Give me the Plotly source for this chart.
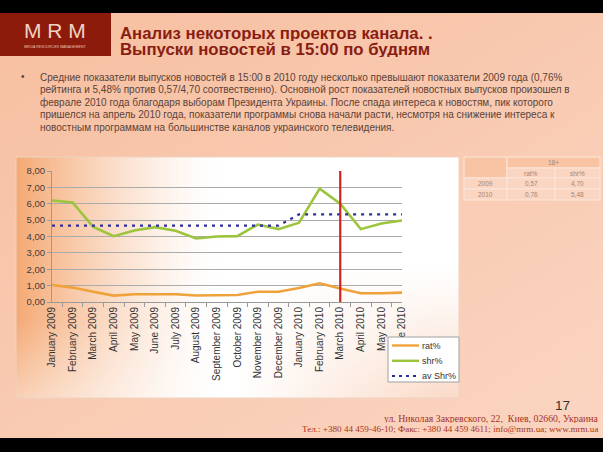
import zlib, struct, base64
import numpy as np
import plotly.graph_objects as go

# ---------------- data ----------------
months = ["January 2009", "February 2009", "March 2009", "April 2009", "May 2009",
          "June 2009", "July 2009", "August 2009", "September 2009", "October 2009",
          "November 2009", "December 2009", "January 2010", "February 2010",
          "March 2010", "April 2010", "May 2010", "June 2010"]
rat = [1.04, 0.88, 0.63, 0.39, 0.47, 0.47, 0.47, 0.40, 0.40, 0.43, 0.63, 0.63,
       0.86, 1.14, 0.82, 0.53, 0.53, 0.57]
shr = [6.20, 6.08, 4.59, 4.02, 4.37, 4.57, 4.35, 3.88, 4.00, 4.02, 4.73, 4.45,
       4.84, 6.92, 6.00, 4.45, 4.80, 4.98]
av_shr = [4.66, 4.66, 4.66, 4.66, 4.66, 4.66, 4.66, 4.66, 4.66, 4.66, 4.66, 4.66,
          5.35, 5.35, 5.35, 5.35, 5.35, 5.35]
marker_month = "March 2010"
y_range = [0, 8]

table_group = ["18+"]
table_cols = ["rat%", "shr%"]
table_years = ["2009", "2010"]
table_rat = ["0,57", "0,76"]
table_shr = ["4,70", "5,48"]

title_lines = ["Анализ некоторых проектов канала. .",
               "Выпуски новостей в 15:00 по будням"]
body_lines = [
    "Средние показатели выпусков новостей в 15:00 в 2010 году несколько превышают показатели 2009 года (0,76%",
    "рейтинга и 5,48% против 0,57/4,70 соотвественно). Основной рост показателей новостных выпусков произошел в",
    "феврале 2010 года благодаря выборам Президента Украины. После спада интереса к новостям, пик которого",
    "пришелся на апрель 2010 года, показатели программы снова начали расти, несмотря на снижение интереса к",
    "новостным программам на большинстве каналов украинского телевидения.",
]
page_no = "17"
address = ["ул. Николая Закревского, 22,  Киев, 02660, Украина",
           "Тел.: +380 44 459-46-10; Факс: +380 44 459 4611; info@mrm.ua; www.mrm.ua"]

COL_RAT, COL_SHR, COL_AV, COL_MARK = "#F0A23A", "#9CC43C", "#2E2E9A", "#D4201E"

# ---------------- geometry helpers ----------------
W, H = 603, 452
ML, MR, MT, MB = 52, 201, 171, 150
PW, PH = W - ML - MR, H - MT - MB


def px(x):
    return (x - ML) / PW


def py(y):
    return (H - MB - y) / PH


def png_uri(arr):
    arr = np.clip(arr, 0, 255).astype(np.uint8)
    h, w, _ = arr.shape
    raw = b"".join(b"\x00" + arr[i].tobytes() for i in range(h))

    def chunk(t, d):
        return struct.pack(">I", len(d)) + t + d + struct.pack(">I", zlib.crc32(t + d) & 0xffffffff)

    png = (b"\x89PNG\r\n\x1a\n" + chunk(b"IHDR", struct.pack(">IIBBBBB", w, h, 8, 2, 0, 0, 0))
           + chunk(b"IDAT", zlib.compress(raw, 9)) + chunk(b"IEND", b""))
    return "data:image/png;base64," + base64.b64encode(png).decode()


# slide background gradient
gx, gy = np.meshgrid(np.linspace(0, W, 151), np.linspace(0, H, 113))
s = np.clip(0.45 * gx / W + 0.55 * gy / H, 0, 1)[..., None]
c0 = np.array([247, 191, 160], float)
c1 = np.array([251, 214, 195], float)
slide_img = c0 * (1 - s) + c1 * s

# chart box gradient
BX0, BY0, BX1, BY1 = 16, 157, 459, 398
bx, by = np.meshgrid(np.linspace(BX0, BX1, 148), np.linspace(BY0, BY1, 81))
a = np.clip((215 - bx) / 200, 0, 1) ** 1.4
a = a * (1 - 0.45 * np.clip((by - 320) / 78, 0, 1))
b = (np.clip((by - 265) / 133, 0, 1) ** 1.2) * np.clip((bx - 240) / 200, 0, 1) * 0.6
a = a[..., None]
b = b[..., None]
white = np.array([255, 255, 255], float)
orange = np.array([245, 170, 118], float)
peach = np.array([249, 198, 168], float)
box_img = white * (1 - a - b) + orange * a + peach * b

# ---------------- figure ----------------
fig = go.Figure()
fig.add_trace(go.Scatter(x=months, y=rat, name="rat%", mode="lines",
                         line=dict(color=COL_RAT, width=2.6), hoverinfo="skip"))
fig.add_trace(go.Scatter(x=months, y=shr, name="shr%", mode="lines",
                         line=dict(color=COL_SHR, width=2.6), hoverinfo="skip"))
fig.add_trace(go.Scatter(x=months, y=av_shr, name="av Shr%", mode="lines",
                         line=dict(color=COL_AV, width=2.2, dash="3px,5px"), hoverinfo="skip"))
fig.add_trace(go.Scatter(x=[marker_month, marker_month], y=y_range, mode="lines",
                         line=dict(color=COL_MARK, width=2.2), showlegend=False, hoverinfo="skip"))

images = [
    dict(source=png_uri(slide_img), xref="paper", yref="paper", x=px(0), y=py(0),
         sizex=W / PW, sizey=H / PH, xanchor="left", yanchor="top", sizing="stretch", layer="below"),
    dict(source=png_uri(box_img), xref="paper", yref="paper", x=px(BX0), y=py(BY0),
         sizex=(BX1 - BX0) / PW, sizey=(BY1 - BY0) / PH, xanchor="left", yanchor="top",
         sizing="stretch", layer="below"),
]

shapes = []


def rect(x0, y0, x1, y1, fill, line=None, lw=0, layer="below"):
    shapes.append(dict(type="rect", xref="paper", yref="paper", x0=px(x0), x1=px(x1),
                       y0=py(y1), y1=py(y0), fillcolor=fill, layer=layer,
                       line=dict(color=line or fill, width=lw)))


def hline(x0, x1, y, color, width, dash=None):
    ln = dict(color=color, width=width)
    if dash:
        ln["dash"] = dash
    shapes.append(dict(type="line", xref="paper", yref="paper", x0=px(x0), x1=px(x1),
                       y0=py(y), y1=py(y), line=ln, layer="above"))


# chart box border
shapes.append(dict(type="rect", xref="paper", yref="paper", x0=px(BX0), x1=px(BX1),
                   y0=py(BY1), y1=py(BY0), line=dict(color="#EDD3C2", width=1), layer="below"))
# logo box
rect(0, 13, 111, 56, "#8C1B0C")
# black bars
rect(0, 0, W, 13, "#000000", layer="above")
rect(0, 438, W, H, "#000000", layer="above")

# table
cx = [464, 507, 555, 600]
ry = [157, 168, 178, 189, 200]
hdr, dat, brd = "#F8C4A3", "#FAD5C2", "#FCE6DA"
rect(cx[0], ry[0], cx[1], ry[2], hdr, brd, 1)
rect(cx[1], ry[0], cx[3], ry[1], hdr, brd, 1)
rect(cx[1], ry[1], cx[2], ry[2], dat, brd, 1)
rect(cx[2], ry[1], cx[3], ry[2], dat, brd, 1)
for r in range(2):
    for c in range(3):
        rect(cx[c], ry[2 + r], cx[c + 1], ry[3 + r], dat, brd, 1)

ann = []


def text(x, y, t, size, color, family="Liberation Sans", xanchor="left", bold=False, height=None):
    if bold:
        t = "<b>" + t + "</b>"
    d = dict(xref="paper", yref="paper", x=px(x), y=py(y), text=t, showarrow=False,
             xanchor=xanchor, yanchor="middle", font=dict(size=size, color=color, family=family))
    if height:
        d["height"] = height
    ann.append(d)


# manual legend (compact, like the reference)
LX0, LY0, LX1, LY1 = 388, 337, 459, 382
rect(LX0, LY0, LX1, LY1, "#FFFFFF", "#A0A0A0", 1, layer="above")
leg_items = [(trace.name, trace.line.color, trace.line.dash) for trace in fig.data[:3]]
for i, (nm, colr, dsh) in enumerate(leg_items):
    yy = 345.5 + 15.3 * i
    hline(392, 419, yy, colr, 2.4 if dsh is None else 2.0, "3px,4px" if dsh else None)
    text(420, yy, nm, 9, "#333333")

tcol = "#A48679"
text((cx[1] + cx[3]) / 2, (ry[0] + ry[1]) / 2, table_group[0], 6.5, tcol, xanchor="center")
for i, lab in enumerate(table_cols):
    text((cx[1 + i] + cx[2 + i]) / 2, (ry[1] + ry[2]) / 2, lab, 6.5, tcol, xanchor="center")
for r in range(2):
    yc = (ry[2 + r] + ry[3 + r]) / 2
    text((cx[0] + cx[1]) / 2, yc, table_years[r], 6.5, tcol, xanchor="center")
    text((cx[1] + cx[2]) / 2, yc, table_rat[r], 6.5, tcol, xanchor="center")
    text((cx[2] + cx[3]) / 2, yc, table_shr[r], 6.5, tcol, xanchor="center")

# logo
text(55, 30, "M R M", 21, "#F2D2C0", xanchor="center")
text(55, 47, "MEDIA RESOURCES MANAGEMENT", 3.6, "#E9C2B2", xanchor="center")

# title
text(118, 32.5, title_lines[0], 16.8, "#8A1D12", bold=True, height=16)
text(118, 49, title_lines[1], 16.8, "#8A1D12", bold=True, height=16)

# body
text(19, 77, "•", 10, "#5B4238")
for i, ln in enumerate(body_lines):
    text(38, 77 + 12.4 * i, ln, 10, "#5B4238", height=12)

# footer
text(562, 405, page_no, 13.5, "#333333", xanchor="center")
text(600, 418, address[0], 9.8, "#A8321F", family="Liberation Serif", xanchor="right", height=10)
text(600, 428.5, address[1], 9.1, "#A8321F", family="Liberation Serif", xanchor="right", height=10)

fig.update_layout(
    template="none",
    width=W, height=H,
    margin=dict(l=ML, r=MR, t=MT, b=MB, pad=0),
    paper_bgcolor="#F8C6A8",
    plot_bgcolor="rgba(0,0,0,0)",
    separators=", ",
    font=dict(family="Liberation Sans", color="#333333"),
    showlegend=False,
    images=images,
    shapes=shapes,
    annotations=ann,
)
fig.update_xaxes(type="category", categoryorder="array", categoryarray=months,
                 showline=True, linecolor="#9A9A9A", linewidth=1,
                 ticks="outside", tickson="boundaries", ticklen=4, tickcolor="#9A9A9A",
                 showgrid=False, zeroline=False, tickangle=-90,
                 tickfont=dict(size=10, color="#333333", family="Liberation Sans"))
fig.update_yaxes(range=y_range, dtick=1, tickformat=".2f",
                 showline=True, linecolor="#9A9A9A", linewidth=1,
                 ticks="outside", ticklen=4, tickcolor="#9A9A9A",
                 showgrid=True, gridcolor="#ABABAB", gridwidth=1, zeroline=False,
                 tickfont=dict(size=9.5, color="#3C3C3C", family="Liberation Sans"))

fig.write_html("out.html", config={"displayModeBar": False},
               post_script="document.body.style.margin='0';document.body.style.overflow='hidden';")
